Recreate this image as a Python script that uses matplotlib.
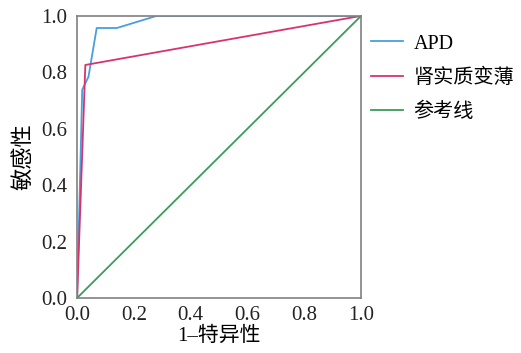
import matplotlib
matplotlib.use('Agg')
import matplotlib.pyplot as plt

plt.rcParams['font.family'] = ['Liberation Serif', 'Noto Sans CJK SC', 'DejaVu Sans']
plt.rcParams['axes.unicode_minus'] = False

# ROC curves
apd_fpr = [0.0, 0.018, 0.040, 0.069, 0.14, 0.28, 1.0]
apd_tpr = [0.0, 0.738, 0.784, 0.957, 0.957, 1.0, 1.0]

thin_fpr = [0.0, 0.029, 1.0]
thin_tpr = [0.0, 0.826, 1.0]

ref_x = [0.0, 1.0]
ref_y = [0.0, 1.0]

labels = ['APD', '肾实质变薄', '参考线']
ticks = [0.0, 0.2, 0.4, 0.6, 0.8, 1.0]

fig = plt.figure(figsize=(5.21, 3.53), dpi=100)
ax = fig.add_axes([0.148, 0.156, 0.545, 0.799])

ax.plot(apd_fpr, apd_tpr, color='#4a9edb', lw=1.3, label=labels[0])
ax.plot(thin_fpr, thin_tpr, color='#d9336e', lw=1.3, label=labels[1])
ax.plot(ref_x, ref_y, color='#3a9c5c', lw=1.3, label=labels[2])

ax.set_xlim(0, 1)
ax.set_ylim(0, 1)
ax.set_xticks(ticks)
ax.set_yticks(ticks)
ax.set_xticklabels(['%.1f' % t for t in ticks])
ax.set_yticklabels(['%.1f' % t for t in ticks])
ax.tick_params(length=0, labelsize=15, colors='#222222')
ax.tick_params(axis='x', pad=6)
ax.tick_params(axis='y', pad=7)
for s in ax.spines.values():
    s.set_color('#808080')
    s.set_linewidth(1.2)

ax.set_xlabel('1\u2013特异性', fontsize=15, labelpad=1)
ax.set_ylabel('敏感性', fontsize=16, labelpad=5)

ax.legend(loc='upper left', bbox_to_anchor=(1.0, 0.97), frameon=False,
          borderaxespad=0.1, fontsize=14.5, handlelength=1.6,
          handletextpad=0.5, labelspacing=0.75)

fig.savefig('out.png', dpi=100)
